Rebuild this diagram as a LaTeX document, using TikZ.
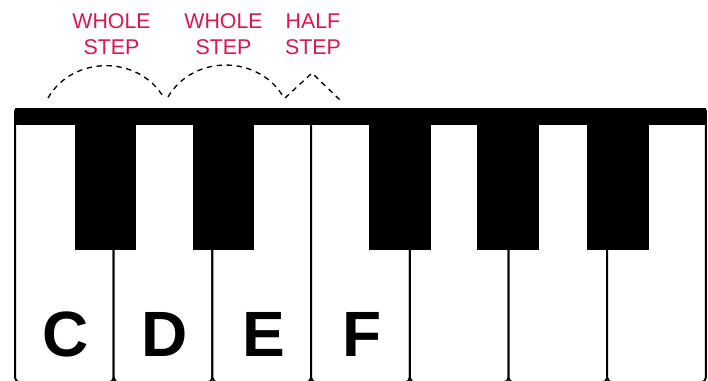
\documentclass[tikz,border=0pt]{standalone}
\usepackage{fontspec}
\setmainfont{Liberation Sans}

\definecolor{steprose}{RGB}{214,24,78}

\tikzset{
    whitekey/.style={draw=black,line width=1.5pt,fill=white,rounded corners=3.75pt},
    blackkey/.style={fill=black},
    keyname/.style={font=\bfseries\fontsize{48}{48}\selectfont,inner sep=0pt,anchor=base},
    steplabel/.style={text=steprose,font=\fontsize{16}{19.5}\selectfont,align=center,inner sep=0pt,anchor=base},
    steparc/.style={line width=1pt,dash pattern=on 4pt off 3.5pt}
}

\begin{document}
\begin{tikzpicture}[x=0.75pt,y=-0.75pt]
        % \draw[help lines] (0,0) grid (708,381);
        \useasboundingbox (0,0) rectangle (708,381);

        % white keys
        \draw[whitekey] (15,110) -- (15,382.5) -- (113.7,382.5) -- (113.7,110);
        \draw[whitekey] (113.7,110) -- (113.7,382.5) -- (212.4,382.5) -- (212.4,110);
        \draw[whitekey] (212.4,110) -- (212.4,382.5) -- (311.1,382.5) -- (311.1,110);
        \draw[whitekey] (311.1,110) -- (311.1,382.5) -- (409.8,382.5) -- (409.8,110);
        \draw[whitekey] (409.8,110) -- (409.8,382.5) -- (508.5,382.5) -- (508.5,110);
        \draw[whitekey] (508.5,110) -- (508.5,382.5) -- (607.2,382.5) -- (607.2,110);
        \draw[whitekey] (607.2,110) -- (607.2,382.5) -- (705.9,382.5) -- (705.9,110);

        % top bar and black keys
        \fill[blackkey] (15,108) rectangle (706,125);
        \fill[blackkey] (75,108) rectangle (136,250);
        \fill[blackkey] (193,108) rectangle (254,250);
        \fill[blackkey] (369,108) rectangle (431,250);
        \fill[blackkey] (477,108) rectangle (539,250);
        \fill[blackkey] (587,108) rectangle (649,250);

        \node[keyname] at (66,357) (c) {C};
        \node[keyname] at (165,357) (d) {D};
        \node[keyname] at (263.5,357) (e) {E};
        \node[keyname] at (362,357) (f) {F};

        \node[steplabel] at (111.5,55) (whole1) {WHOLE\\STEP};
        \node[steplabel] at (223.5,55) (whole2) {WHOLE\\STEP};
        \node[steplabel] at (313,55) (half) {HALF\\STEP};

        \coordinate (w1a) at (48,98);
        \coordinate (w1b) at (164,98);
        \coordinate (w2a) at (168,97);
        \coordinate (w2b) at (284,98);
        \coordinate (h1a) at (285,98);
        \coordinate (h1t) at (312,73);
        \coordinate (h1b) at (340,100);

        \draw[steparc] (w1a) to[bend left=60,looseness=1.1] (w1b);
        \draw[steparc] (w2a) to[bend left=60,looseness=1.1] (w2b);
        \draw[steparc] (h1a) -- (h1t) -- (h1b);

    \end{tikzpicture}
\end{document}
